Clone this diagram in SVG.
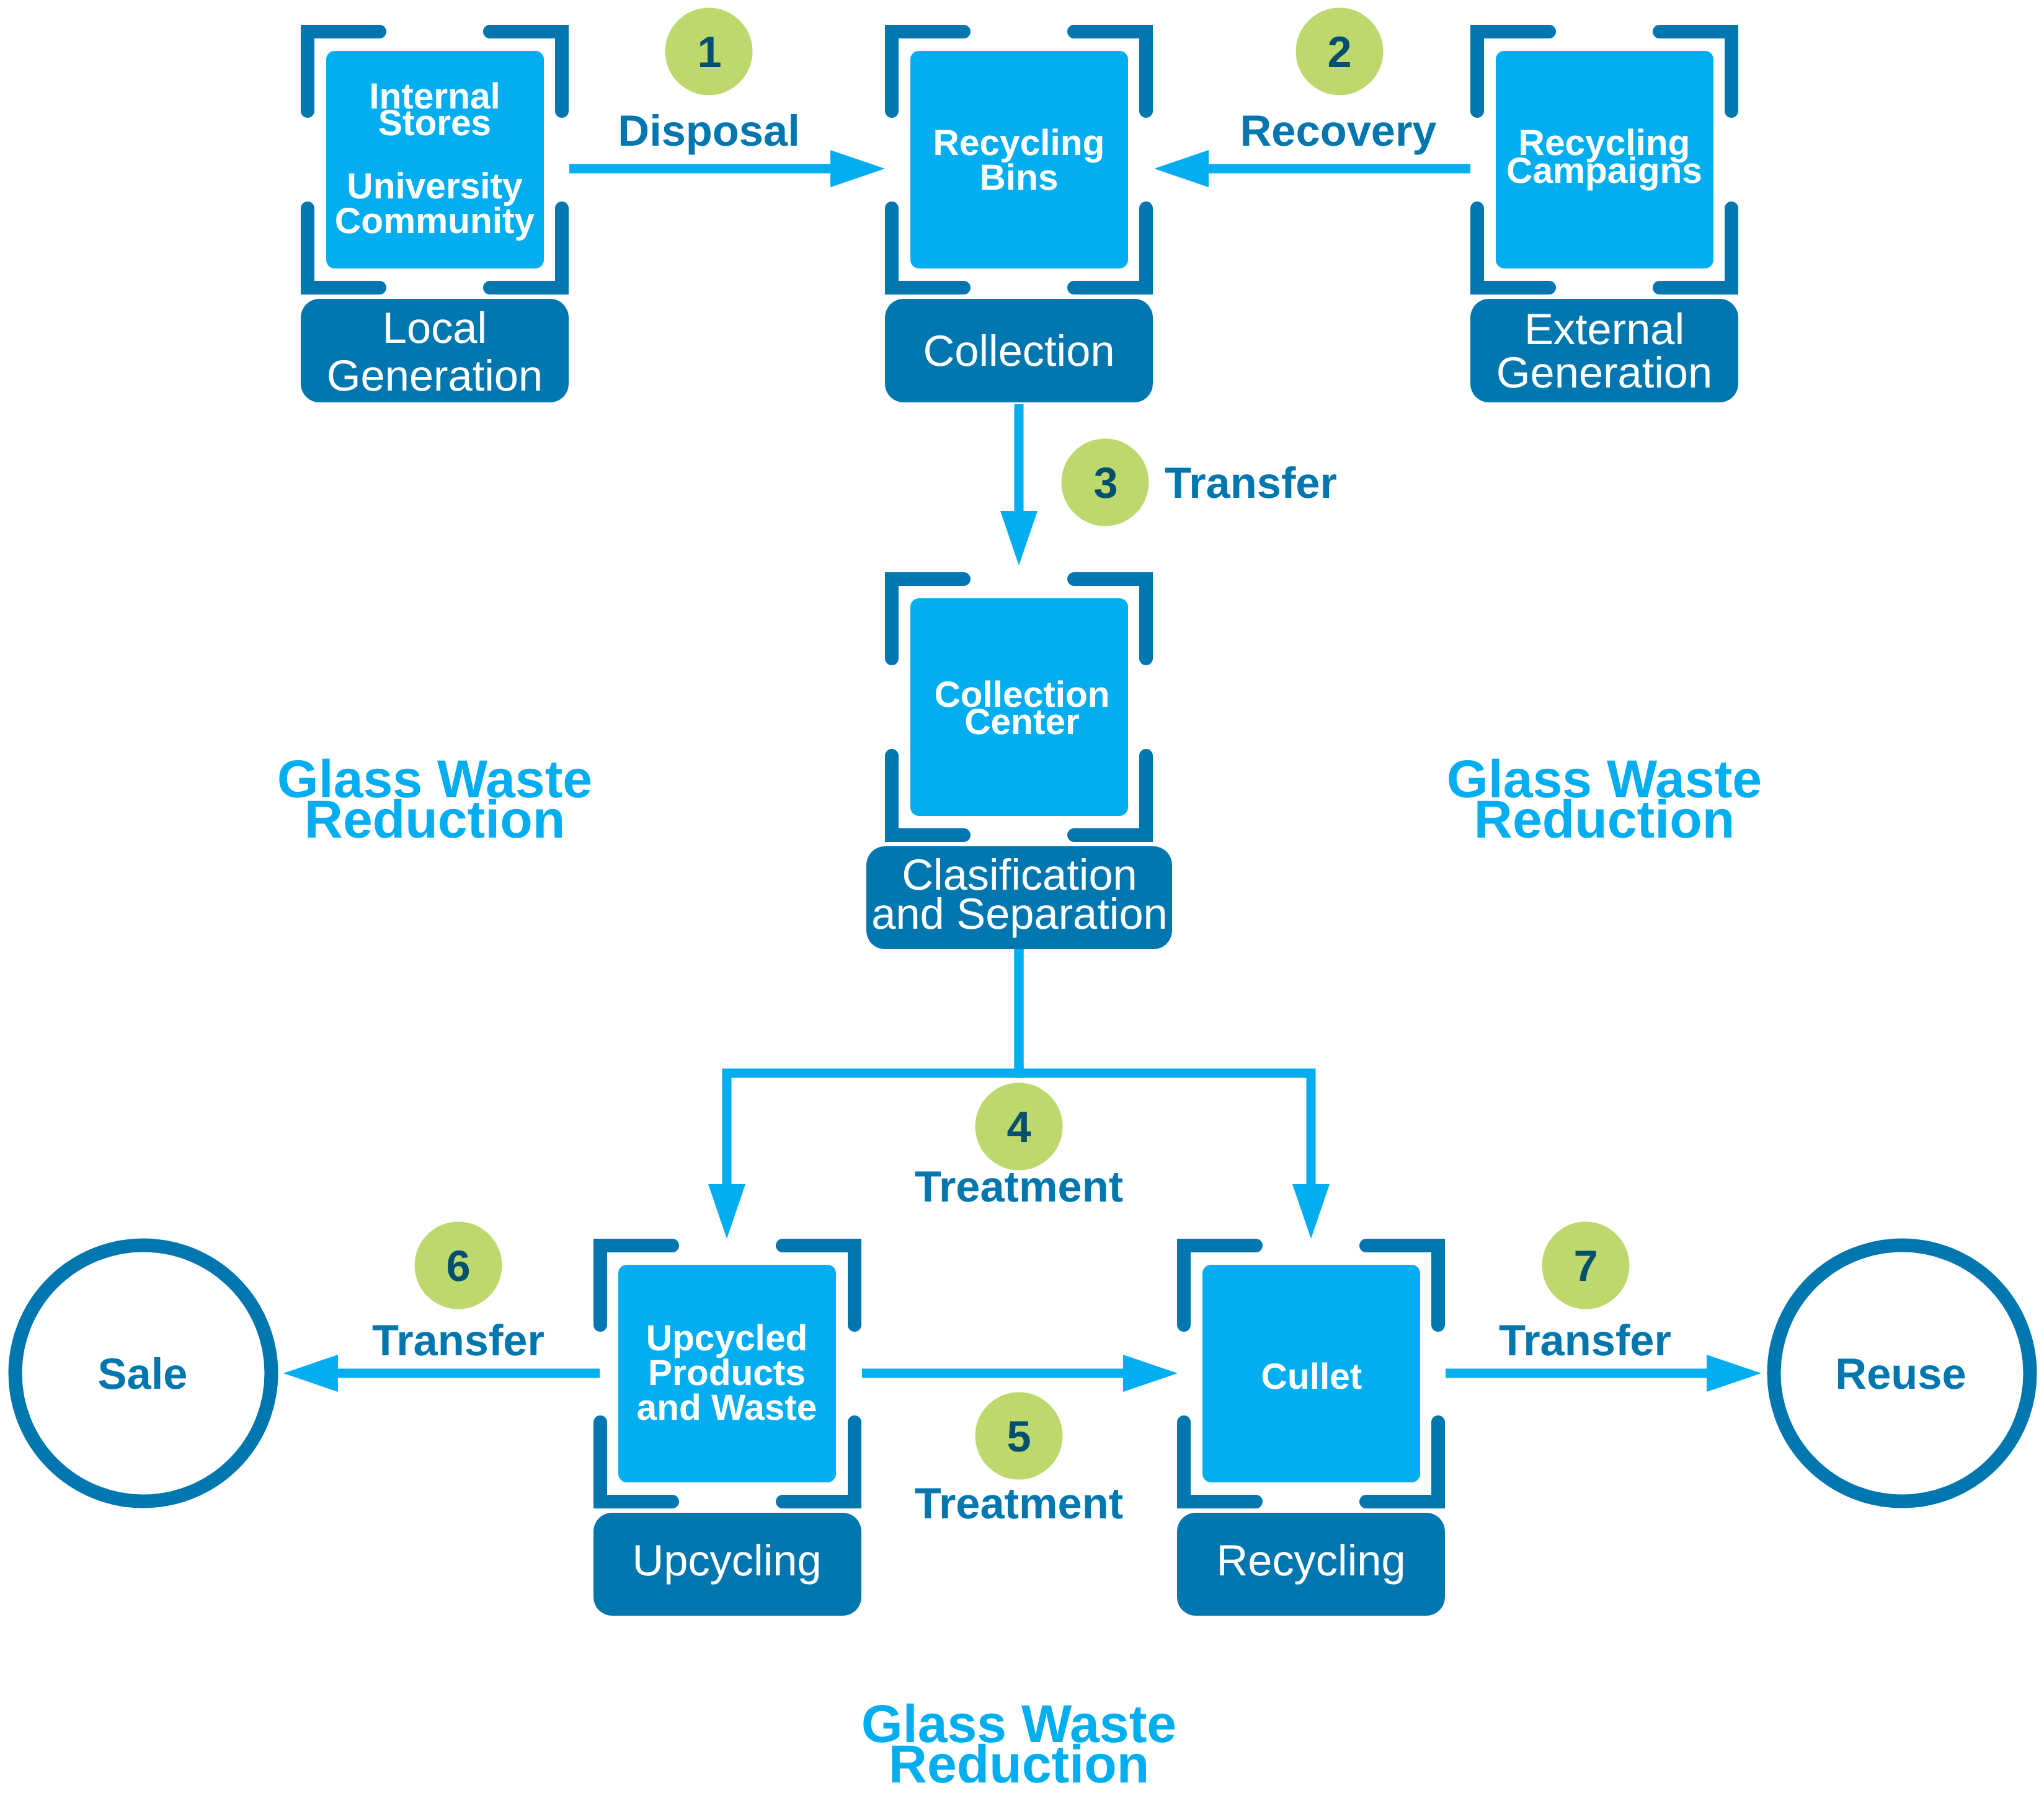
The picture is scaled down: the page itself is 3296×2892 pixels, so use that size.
<svg xmlns="http://www.w3.org/2000/svg" width="3296" height="2892" viewBox="0 0 3296 2892">
<style>
text{font-family:"Liberation Sans",Arial,sans-serif;text-anchor:middle;text-rendering:geometricPrecision}
.bg{fill:#fff}
.br{fill:none;stroke:#0276AE;stroke-width:22;stroke-linecap:round;stroke-linejoin:miter}
.in{fill:#02AEF0}
.lb{fill:#0276AE}
.it{fill:#fff;font-weight:700;font-size:58.6px}
.lt{fill:#fff;font-size:70.4px}
.et{fill:#0276AE;font-weight:700;font-size:70.4px}
.bd{fill:#BDD96D}
.dg{fill:#034F6D;font-weight:700;font-size:70.4px}
.ti{fill:#02AEF0;font-weight:700;font-size:86px}
.cn{fill:none;stroke:#02AEF0;stroke-width:15;marker-end:url(#ah)}
.cr{fill:#fff;stroke:#0276AE;stroke-width:22}
</style>
<defs>
<marker id="ah" markerUnits="userSpaceOnUse" markerWidth="88" markerHeight="60" refX="0" refY="30" orient="auto"><polygon points="0,0 88,30 0,60" fill="#02AEF0"/></marker>
<g id="bracket">
<path class="br" d="M127 11H11V139"/>
<path class="br" d="M305 11H421V139"/>
<path class="br" d="M127 424H11V296"/>
<path class="br" d="M305 424H421V296"/>
</g>
</defs>
<rect class="bg" width="3296" height="2892"/>
<g id="connectors">
<path class="cn" d="M918 272H1339"/>
<path class="cn" d="M2371 272H1949"/>
<path class="cn" d="M1643 652V824"/>
<path class="cn" d="M1643 1531V1731H1172V1910"/>
<path class="cn" d="M1643 1531V1731H2114V1910"/>
<path class="cn" d="M1390 2215H1811"/>
<path class="cn" d="M967 2215H545"/>
<path class="cn" d="M2331 2215H2752"/>
</g>
<g id="node-local">
<use href="#bracket" x="485" y="40"/>
<rect class="in" x="526" y="82" width="351" height="351" rx="14"/>
<text class="it" x="701" y="175">Internal</text><text class="it" x="701" y="218">Stores</text>
<text class="it" x="701" y="320">University</text><text class="it" x="701" y="376">Community</text>
<rect class="lb" x="485" y="482" width="432" height="167" rx="30"/>
<text class="lt" x="701" y="553">Local</text><text class="lt" x="701" y="630">Generation</text>
</g>
<g id="node-collection">
<use href="#bracket" x="1427" y="40"/>
<rect class="in" x="1468" y="82" width="351" height="351" rx="14"/>
<text class="it" x="1643" y="250">Recycling</text><text class="it" x="1643" y="306">Bins</text>
<rect class="lb" x="1427" y="482" width="432" height="167" rx="30"/>
<text class="lt" x="1643" y="590">Collection</text>
</g>
<g id="node-external">
<use href="#bracket" x="2371" y="40"/>
<rect class="in" x="2412" y="82" width="351" height="351" rx="14"/>
<text class="it" x="2587" y="250">Recycling</text><text class="it" x="2587" y="295">Campaigns</text>
<rect class="lb" x="2371" y="482" width="432" height="167" rx="30"/>
<text class="lt" x="2587" y="555">External</text><text class="lt" x="2587" y="625">Generation</text>
</g>
<g id="node-classification">
<use href="#bracket" x="1427" y="923"/>
<rect class="in" x="1468" y="965" width="351" height="351" rx="14"/>
<text class="it" x="1648" y="1140">Collection</text><text class="it" x="1648" y="1184">Center</text>
<rect class="lb" x="1397" y="1365" width="493" height="166" rx="30"/>
<text class="lt" x="1644" y="1435">Clasification</text><text class="lt" x="1644" y="1498">and Separation</text>
</g>
<g id="node-upcycling">
<use href="#bracket" x="957" y="1998"/>
<rect class="in" x="997" y="2040" width="351" height="351" rx="14"/>
<text class="it" x="1172" y="2178">Upcycled</text><text class="it" x="1172" y="2234">Products</text><text class="it" x="1172" y="2290">and Waste</text>
<rect class="lb" x="957" y="2440" width="432" height="166" rx="30"/>
<text class="lt" x="1172" y="2541">Upcycling</text>
</g>
<g id="node-recycling">
<use href="#bracket" x="1898" y="1998"/>
<rect class="in" x="1939" y="2040" width="351" height="351" rx="14"/>
<text class="it" x="2115" y="2240">Cullet</text>
<rect class="lb" x="1898" y="2440" width="432" height="166" rx="30"/>
<text class="lt" x="2114" y="2541">Recycling</text>
</g>
<g id="node-sale">
<circle class="cr" cx="231" cy="2215" r="206.5"/>
<text class="et" x="230" y="2240">Sale</text>
</g>
<g id="node-reuse">
<circle class="cr" cx="3067" cy="2215" r="206.5"/>
<text class="et" x="3065" y="2240">Reuse</text>
</g>
<g id="step-1"><circle class="bd" cx="1143" cy="83" r="70.5"/><text class="dg" x="1144" y="108">1</text><text class="et" x="1143" y="235">Disposal</text></g>
<g id="step-2"><circle class="bd" cx="2160" cy="83" r="70.5"/><text class="dg" x="2160" y="108">2</text><text class="et" x="2158" y="235">Recovery</text></g>
<g id="step-3"><circle class="bd" cx="1782" cy="778" r="70.5"/><text class="dg" x="1783" y="803">3</text><text class="et" x="2017" y="803">Transfer</text></g>
<g id="step-4"><circle class="bd" cx="1643" cy="1817" r="70.5"/><text class="dg" x="1643" y="1842">4</text><text class="et" x="1643" y="1938">Treatment</text></g>
<g id="step-5"><circle class="bd" cx="1643" cy="2316" r="70.5"/><text class="dg" x="1643" y="2341">5</text><text class="et" x="1643" y="2449">Treatment</text></g>
<g id="step-6"><circle class="bd" cx="739" cy="2041" r="70.5"/><text class="dg" x="739" y="2066">6</text><text class="et" x="739" y="2186">Transfer</text></g>
<g id="step-7"><circle class="bd" cx="2557" cy="2041" r="70.5"/><text class="dg" x="2557" y="2066">7</text><text class="et" x="2556" y="2186">Transfer</text></g>
<g id="title-left"><text class="ti" x="701" y="1286">Glass Waste</text><text class="ti" x="701" y="1351">Reduction</text></g>
<g id="title-right"><text class="ti" x="2587" y="1286">Glass Waste</text><text class="ti" x="2587" y="1351">Reduction</text></g>
<g id="title-bottom"><text class="ti" x="1643" y="2810">Glass Waste</text><text class="ti" x="1643" y="2875">Reduction</text></g>
</svg>
